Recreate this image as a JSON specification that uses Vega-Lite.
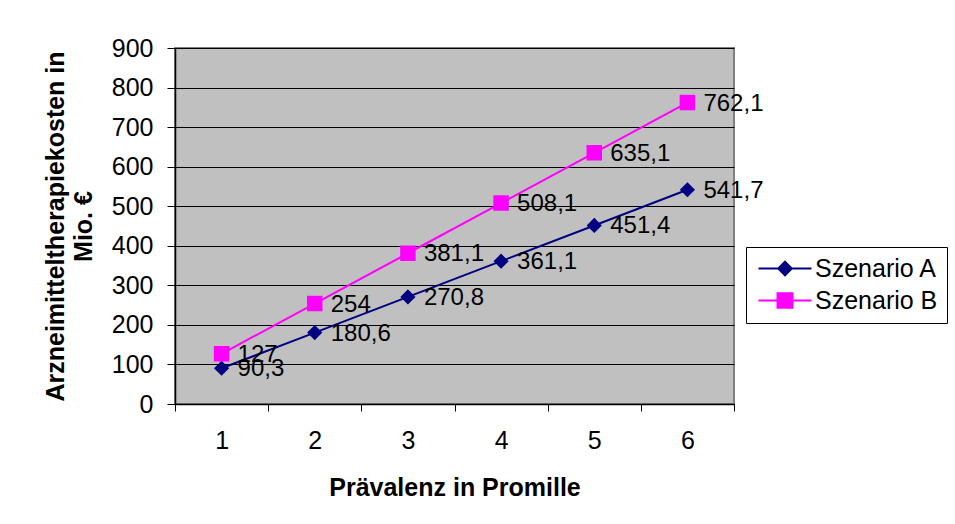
{
  "$schema": "https://vega.github.io/schema/vega-lite/v6.json",
  "width": 559,
  "height": 356,
  "autosize": {"type": "none"},
  "padding": {"left": 175, "top": 48, "right": 221, "bottom": 120},
  "background": "white",
  "config": {
    "font": "Liberation Sans",
    "locale": {"number": {"decimal": ",", "thousands": ".", "grouping": [3], "currency": ["", " €"]}},
    "view": {"fill": "#C0C0C0", "stroke": "#808080", "strokeWidth": 2},
    "axis": {
      "labelFont": "Liberation Sans", "labelFontSize": 25, "labelColor": "black",
      "titleFont": "Liberation Sans", "titleFontSize": 25, "titleFontWeight": "bold", "titleColor": "black",
      "domainColor": "black", "domainWidth": 1.5, "tickColor": "black", "tickWidth": 1,
      "gridColor": "black", "gridOpacity": 1, "gridWidth": 1
    }
  },
  "data": {"values": [
    {"p": 1, "s": "Szenario A", "v": 90.3},
    {"p": 2, "s": "Szenario A", "v": 180.6},
    {"p": 3, "s": "Szenario A", "v": 270.8},
    {"p": 4, "s": "Szenario A", "v": 361.1},
    {"p": 5, "s": "Szenario A", "v": 451.4},
    {"p": 6, "s": "Szenario A", "v": 541.7},
    {"p": 1, "s": "Szenario B", "v": 127},
    {"p": 2, "s": "Szenario B", "v": 254},
    {"p": 3, "s": "Szenario B", "v": 381.1},
    {"p": 4, "s": "Szenario B", "v": 508.1},
    {"p": 5, "s": "Szenario B", "v": 635.1},
    {"p": 6, "s": "Szenario B", "v": 762.1}
  ]},
  "encoding": {
    "x": {
      "field": "p", "type": "ordinal",
      "scale": {"type": "band", "paddingInner": 0, "paddingOuter": 0},
      "axis": {"title": "Prävalenz in Promille", "labelAngle": 0, "tickBand": "extent", "tickSize": 7, "labelPadding": 17, "titlePadding": 22, "grid": false}
    },
    "y": {
      "field": "v", "type": "quantitative",
      "scale": {"domain": [0, 900], "nice": false},
      "axis": {"title": ["Arzneimitteltherapiekosten in", "Mio. €"], "values": [0, 100, 200, 300, 400, 500, 600, 700, 800, 900], "format": "d", "tickSize": 8, "labelPadding": 14, "titlePadding": 15, "titleLineHeight": 28, "grid": true}
    }
  },
  "layer": [
    {
      "mark": {"type": "line", "strokeWidth": 2},
      "encoding": {
        "color": {
          "field": "s", "type": "nominal",
          "scale": {"domain": ["Szenario A", "Szenario B"], "range": ["#000080", "#FF00FF"]},
          "legend": {
            "title": null, "orient": "none", "legendX": 571, "legendY": 199,
            "fillColor": "white", "strokeColor": "black", "cornerRadius": 0,
            "padding": 9, "labelFont": "Liberation Sans", "labelFontSize": 25, "labelColor": "black",
            "symbolSize": 256, "labelOffset": 35, "rowPadding": 6, "symbolStrokeWidth": 2,
            "encode": {"symbols": {"update": {
              "shape": {"signal": "datum.value === 'Szenario A' ? 'M-1.125,0H5.5M2.1875,-0.85L3.0375,0L2.1875,0.85L1.3375,0Z' : 'M-1.125,0H5.5M1.25,-0.9H3.125V0.9H1.25Z'"},
              "fill": {"signal": "datum.value === 'Szenario A' ? '#000080' : '#FF00FF'"},
              "stroke": {"signal": "datum.value === 'Szenario A' ? '#000080' : '#FF00FF'"},
              "strokeWidth": {"signal": "2"}
            }}}
          }
        }
      }
    },
    {
      "transform": [{"filter": "datum.s === 'Szenario A'"}],
      "mark": {"type": "point", "shape": "diamond", "filled": true, "opacity": 1, "color": "#000080", "size": 230}
    },
    {
      "transform": [{"filter": "datum.s === 'Szenario B'"}],
      "mark": {"type": "point", "shape": "square", "filled": true, "opacity": 1, "color": "#FF00FF", "size": 240}
    },
    {
      "mark": {"type": "text", "align": "left", "baseline": "middle", "dx": 16, "dy": 1, "fontSize": 24, "font": "Liberation Sans", "color": "black"},
      "encoding": {"text": {"field": "v", "type": "quantitative", "format": ".1~f"}}
    }
  ]
}
